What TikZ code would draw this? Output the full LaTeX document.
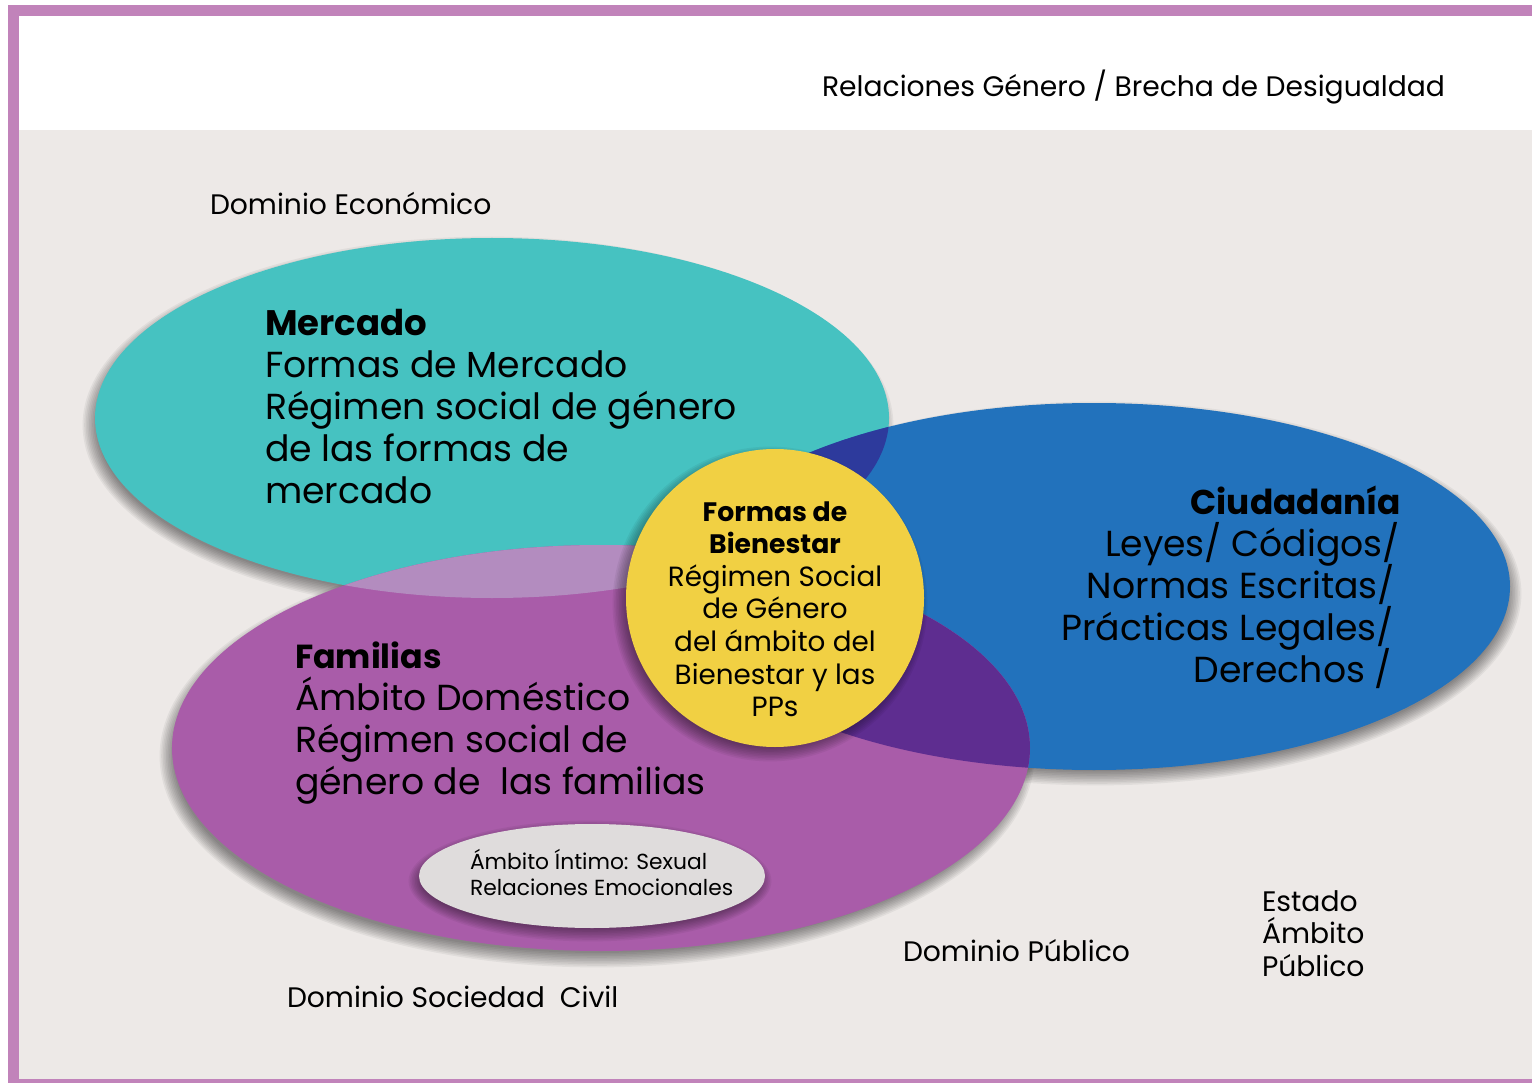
\documentclass[tikz,border=0pt]{standalone}
\usepackage{fontspec}
\usepackage{graphicx}
\setmainfont{Poppins}
\usetikzlibrary{positioning}
\definecolor{frameC}{HTML}{C183BA}
\definecolor{bgC}{HTML}{EDE9E7}
\definecolor{tealC}{HTML}{46C2C1}
\definecolor{blueC}{HTML}{2272BC}
\definecolor{purpC}{HTML}{A95CA9}
\definecolor{tpC}{HTML}{B38CBF}
\definecolor{tbC}{HTML}{2D3A9C}
\definecolor{pbC}{HTML}{5E2D90}
\definecolor{yelC}{HTML}{F1D043}
\definecolor{greyC}{HTML}{DFDCDC}
\tikzset{
  lbl/.style={inner sep=0pt, outer sep=0pt, text=black},
  small/.style={lbl, font=\fontsize{28.2}{32.5}\selectfont},
  big/.style={lbl, font=\fontsize{36.2}{42}\selectfont},
  mid/.style={lbl, font=\fontsize{27.8}{32.6}\selectfont},
  tiny/.style={lbl, font=\fontsize{21.8}{26.5}\selectfont},
}
\newcommand{\sm}[1]{\smash{#1}}
\newcommand{\bsm}[2]{\smash{\scalebox{#1}{\textbf{#2}}}}
\newcommand{\softshadow}[6]{%
  \foreach \k in {0,...,9}{%
    \fill[black, opacity=0.05] (#1+#5,#2+#6) ellipse [x radius={#3-6+\k*1.6}, y radius={#4-6+\k*1.6}];
  }}
\begin{document}
\begin{tikzpicture}[x=1pt,y=-1pt]
\useasboundingbox (0,0) rectangle (1532,1083);
\fill[white] (0,0) rectangle (1532,1083);
\fill[bgC] (19,130) rectangle (1532,1079);
\fill[frameC] (8,5) rectangle (1532,16);
\fill[frameC] (8,5) rectangle (19,1083);
\fill[frameC] (8,1079) rectangle (1532,1083);

% shadows
\softshadow{492}{418}{397}{180}{-4}{7}
\softshadow{1094}{586.5}{416}{183.5}{3}{7}
\softshadow{601}{748}{429}{203}{-4}{8}

% main ellipses
\fill[tealC] (492,418) ellipse [x radius=397, y radius=180];
\fill[blueC] (1094,586.5) ellipse [x radius=416, y radius=183.5];
\fill[purpC] (601,748) ellipse [x radius=429, y radius=203];

% overlaps
\begin{scope}
  \clip (492,418) ellipse [x radius=397, y radius=180];
  \fill[tpC] (601,748) ellipse [x radius=429, y radius=203];
  \fill[tbC] (1094,586.5) ellipse [x radius=416, y radius=183.5];
\end{scope}
\begin{scope}
  \clip (601,748) ellipse [x radius=429, y radius=203];
  \fill[pbC] (1094,586.5) ellipse [x radius=416, y radius=183.5];
\end{scope}

% central circle
\softshadow{775}{598}{149}{149}{-5}{6}
\fill[yelC] (775,598) circle [radius=149];

% inner ellipse
\softshadow{592}{876}{173}{52}{-2}{5}
\fill[greyC] (592,876) ellipse [x radius=173, y radius=52];

% texts
\node[small, anchor=base west] (hdr) at (822,97) {Relaciones Género / Brecha de Desigualdad};
\node[small, anchor=base west] (deco) at (210,215) {Dominio Económico};
\node[small, anchor=base west] (dpub) at (903,961) {Dominio Público};
\node[small, anchor=base west] (dsoc) at (287,1007) {Dominio Sociedad\ \ Civil};
\node[small, anchor=base west] (est) at (1262,911) {\begin{tabular}[t]{@{}l@{}}\sm{Estado}\\\sm{Ámbito}\\\sm{Público}\end{tabular}};

\node[big, anchor=base west] (merc) at (265,336) {\begin{tabular}[t]{@{}l@{}}\bsm{0.98}{Mercado}\\\sm{Formas de Mercado}\\\sm{Régimen social de género}\\\sm{de las formas de}\\\sm{mercado}\end{tabular}};

\node[big, anchor=base east] (ciud) at (1401,514) {\begin{tabular}[t]{@{}r@{}}\bsm{0.95}{Ciudadanía}\\\sm{Leyes/ Códigos/}\kern1pt\\\sm{Normas Escritas/}\kern6pt\\\sm{Prácticas Legales/}\kern7pt\\\sm{Derechos /}\kern9pt\end{tabular}};

\node[big, anchor=base west] (fam) at (295,668) {\begin{tabular}[t]{@{}l@{}}\bsm{0.92}{Familias}\\\sm{Ámbito Doméstico}\\\sm{Régimen social de}\\\sm{género de\ \ las familias}\end{tabular}};

\node[mid, anchor=base] (bien) at (775,521) {\begin{tabular}[t]{@{}c@{}}\bsm{0.96}{Formas de}\\\bsm{0.96}{Bienestar}\\\sm{Régimen Social}\\\sm{de Género}\\\sm{del ámbito del}\\\sm{Bienestar y las}\\\sm{PPs}\end{tabular}};

\node[tiny, anchor=base west] (intim) at (470,869) {\begin{tabular}[t]{@{}l@{}}\sm{Ámbito Íntimo: Sexual}\\\sm{Relaciones Emocionales}\end{tabular}};
\end{tikzpicture}
\end{document}
